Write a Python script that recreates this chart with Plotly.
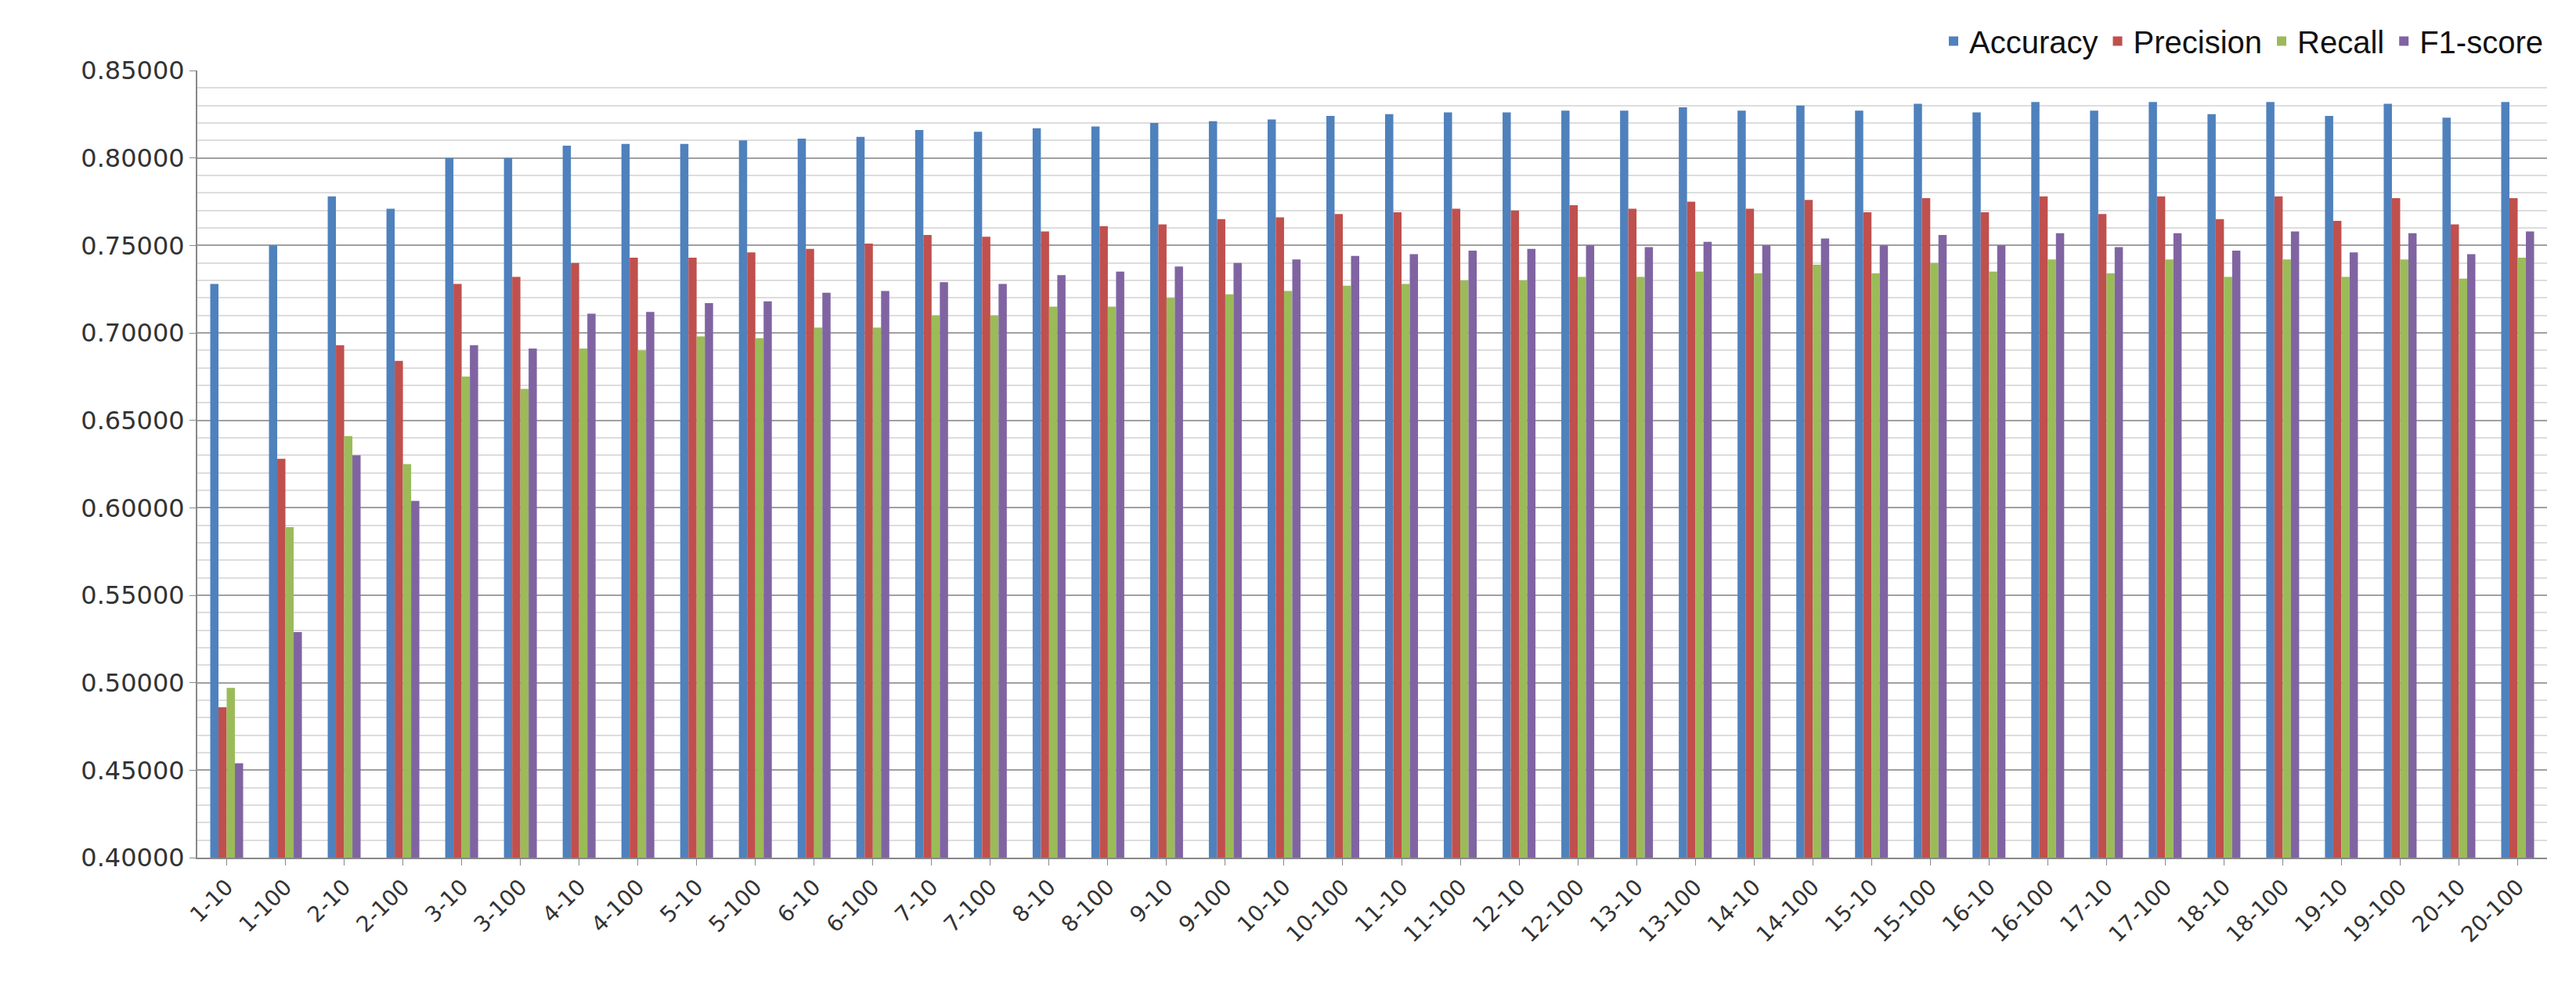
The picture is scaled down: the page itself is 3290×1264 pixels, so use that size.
import plotly.graph_objects as go

categories = [f"{i}-{k}" for i in range(1, 21) for k in (10, 100)]
accuracy = [0.728,0.750,0.778,0.771,0.800,0.800,0.807,0.808,0.808,0.810,0.811,0.812,0.816,0.815,0.817,0.818,0.820,0.821,0.822,0.824,0.825,0.826,0.826,0.827,0.827,0.829,0.827,0.830,0.827,0.831,0.826,0.832,0.827,0.832,0.825,0.832,0.824,0.831,0.823,0.832]
precision = [0.486,0.628,0.693,0.684,0.728,0.732,0.740,0.743,0.743,0.746,0.748,0.751,0.756,0.755,0.758,0.761,0.762,0.765,0.766,0.768,0.769,0.771,0.770,0.773,0.771,0.775,0.771,0.776,0.769,0.777,0.769,0.778,0.768,0.778,0.765,0.778,0.764,0.777,0.762,0.777]
recall = [0.497,0.589,0.641,0.625,0.675,0.668,0.691,0.690,0.698,0.697,0.703,0.703,0.710,0.710,0.715,0.715,0.720,0.722,0.724,0.727,0.728,0.730,0.730,0.732,0.732,0.735,0.734,0.739,0.734,0.740,0.735,0.742,0.734,0.742,0.732,0.742,0.732,0.742,0.731,0.743]
f1 = [0.454,0.529,0.630,0.604,0.693,0.691,0.711,0.712,0.717,0.718,0.723,0.724,0.729,0.728,0.733,0.735,0.738,0.740,0.742,0.744,0.745,0.747,0.748,0.750,0.749,0.752,0.750,0.754,0.750,0.756,0.750,0.757,0.749,0.757,0.747,0.758,0.746,0.757,0.745,0.758]
series = [("Accuracy", accuracy, "#4F81BD"), ("Precision", precision, "#C0504D"),
          ("Recall", recall, "#9BBB59"), ("F1-score", f1, "#8064A2")]
ticks = [0.40, 0.45, 0.50, 0.55, 0.60, 0.65, 0.70, 0.75, 0.80, 0.85]

fig = go.Figure()
for name, vals, col in series:
    fig.add_trace(go.Bar(x=categories, y=vals, name=name, marker_color=col,
                         marker_line_width=0))

fig.update_layout(
    width=3290, height=1264, barmode="group", bargap=0.44, bargroupgap=0,
    plot_bgcolor="white", paper_bgcolor="white",
    margin=dict(l=244, r=45, t=67, b=177),
    font=dict(family="DejaVu Sans", size=30, color="#333333"),
    legend=dict(orientation="h", x=1, xanchor="right", y=1.005, yanchor="bottom",
                font=dict(family="Liberation Sans Narrow, Liberation Sans", size=40, color="#111111"),
                bgcolor="rgba(255,255,255,0)"),
    xaxis=dict(type="category", tickangle=-45, showline=True, linecolor="#888888", linewidth=2,
               ticks="outside", ticklen=8, tickcolor="#888888",
               tickfont=dict(family="DejaVu Sans", size=28)),
    yaxis=dict(range=[0.40, 0.85], tickvals=ticks, tickformat=".5f",
               showgrid=True, gridcolor="#A0A0A0", gridwidth=2,
               minor=dict(dtick=0.01, showgrid=True, gridcolor="#DDDDDD", gridwidth=2, tick0=0.40),
               showline=True, linecolor="#888888", linewidth=2,
               ticks="outside", ticklen=8, tickcolor="#888888",
               tickfont=dict(family="DejaVu Sans", size=32)),
)
fig.write_html("out.html")
